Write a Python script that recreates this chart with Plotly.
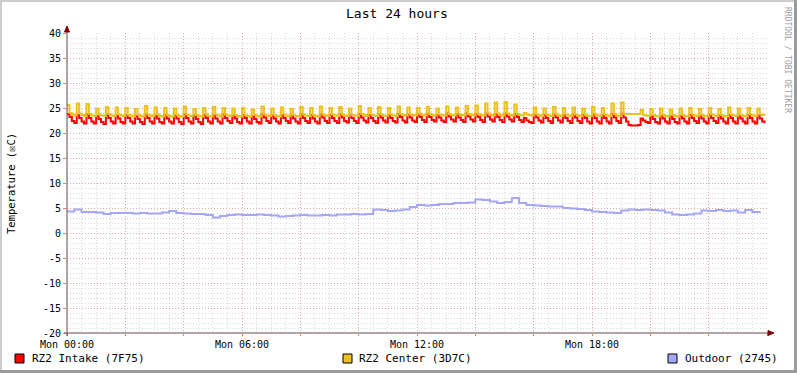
import plotly.graph_objects as go

# ---------------- data ----------------
step_hours = 5 / 60.0
intake = [
    23.8, 23.2, 22.4, 22.0, 23.6, 23.0, 22.3, 21.9, 23.7, 23.0, 22.3, 21.9,
    23.4, 22.8, 22.2, 21.8, 23.6, 23.0, 22.3, 21.9, 23.5, 22.9, 22.2, 21.9,
    23.6, 23.0, 22.3, 21.9, 23.4, 22.8, 22.2, 21.8, 23.7, 23.0, 22.3, 21.9,
    23.5, 22.9, 22.2, 21.9, 23.6, 22.9, 22.3, 21.9, 23.5, 22.9, 22.2, 21.8,
    23.7, 23.0, 22.3, 21.9, 23.5, 22.8, 22.2, 21.8, 23.6, 23.0, 22.3, 21.9,
    23.6, 22.9, 22.3, 21.9, 23.7, 23.0, 22.4, 22.0, 23.5, 22.9, 22.2, 21.9,
    23.6, 23.0, 22.3, 21.9, 23.4, 22.8, 22.2, 21.9, 23.7, 23.1, 22.4, 22.0,
    23.5, 22.9, 22.3, 21.9, 23.6, 23.0, 22.4, 22.0, 23.5, 22.9, 22.3, 21.9,
    23.7, 23.0, 22.4, 22.0, 23.6, 22.9, 22.3, 21.9, 23.7, 23.1, 22.4, 22.0,
    23.6, 23.0, 22.4, 22.0, 23.7, 23.1, 22.4, 22.1, 23.6, 23.0, 22.4, 22.0,
    23.8, 23.1, 22.5, 22.1, 23.6, 23.0, 22.4, 22.0, 23.7, 23.1, 22.5, 22.1,
    23.6, 23.0, 22.4, 22.1, 23.8, 23.2, 22.5, 22.1, 23.7, 23.1, 22.5, 22.2,
    23.7, 23.2, 22.6, 22.2, 23.8, 23.2, 22.6, 22.3, 23.6, 23.1, 22.5, 22.2,
    23.9, 23.3, 22.7, 22.3, 23.7, 23.1, 22.6, 22.2, 23.9, 23.3, 22.7, 22.3,
    23.8, 23.2, 22.6, 22.2, 23.9, 23.3, 22.7, 22.3, 23.8, 23.2, 22.6, 22.2,
    23.9, 23.3, 22.7, 22.3, 23.8, 23.2, 22.6, 22.2, 23.0, 22.5, 22.2, 22.0,
    23.7, 23.1, 22.5, 22.1, 23.6, 23.0, 22.4, 22.0, 23.7, 23.1, 22.5, 22.1,
    23.6, 23.0, 22.4, 22.0, 23.7, 23.1, 22.4, 22.0, 23.6, 23.0, 22.3, 21.9,
    23.7, 23.0, 22.3, 21.9, 23.6, 23.0, 22.3, 21.9, 23.8, 23.1, 22.4, 22.0,
    23.9, 23.1, 22.3, 21.6, 21.5, 21.5, 21.5, 21.6, 22.9, 22.5, 22.2, 22.0,
    23.4, 22.8, 22.2, 21.9, 23.5, 22.9, 22.3, 21.9, 23.4, 22.8, 22.2, 21.9,
    23.5, 22.9, 22.3, 21.9, 23.6, 23.0, 22.4, 22.0, 23.5, 22.9, 22.3, 21.9,
    23.6, 23.0, 22.4, 22.0, 23.5, 22.9, 22.3, 21.9, 23.6, 23.0, 22.3, 21.9,
    23.5, 22.9, 22.3, 21.9, 23.6, 23.0, 22.3, 21.9, 23.5, 22.9, 22.3, 22.0,
]
center = [
    25.6, 24.0, 23.7, 23.5, 25.9, 23.9, 23.6, 23.4, 25.8, 23.8, 23.5, 23.4,
    24.9, 23.7, 23.5, 23.4, 25.2, 23.8, 23.5, 23.4, 25.1, 23.7, 23.5, 23.4,
    25.0, 23.6, 23.5, 23.3, 24.8, 23.6, 23.4, 23.3, 25.4, 23.7, 23.5, 23.4,
    25.1, 23.7, 23.4, 23.3, 25.0, 23.6, 23.4, 23.3, 24.9, 23.6, 23.4, 23.3,
    25.3, 23.7, 23.5, 23.4, 24.8, 23.6, 23.4, 23.3, 25.0, 23.7, 23.4, 23.3,
    25.2, 23.7, 23.5, 23.3, 25.0, 23.7, 23.5, 23.4, 24.9, 23.6, 23.4, 23.3,
    25.0, 23.6, 23.4, 23.3, 24.7, 23.6, 23.4, 23.3, 25.3, 23.7, 23.5, 23.4,
    24.9, 23.6, 23.4, 23.3, 25.1, 23.7, 23.5, 23.4, 24.8, 23.6, 23.4, 23.3,
    25.2, 23.7, 23.5, 23.4, 25.0, 23.6, 23.4, 23.3, 25.3, 23.7, 23.5, 23.4,
    25.0, 23.7, 23.5, 23.4, 25.2, 23.7, 23.5, 23.4, 24.9, 23.6, 23.5, 23.4,
    25.4, 23.8, 23.6, 23.4, 25.0, 23.7, 23.5, 23.4, 25.2, 23.7, 23.5, 23.4,
    25.0, 23.7, 23.5, 23.4, 25.3, 23.8, 23.6, 23.5, 25.1, 23.7, 23.6, 23.5,
    25.0, 23.8, 23.6, 23.5, 25.2, 23.8, 23.6, 23.5, 24.9, 23.7, 23.6, 23.5,
    25.3, 23.8, 23.6, 23.5, 25.1, 23.8, 23.6, 23.5, 25.4, 23.8, 23.6, 23.5,
    25.5, 23.8, 23.6, 23.5, 25.9, 23.9, 23.6, 23.5, 26.1, 23.9, 23.6, 23.5,
    26.2, 23.9, 23.6, 23.5, 25.7, 23.8, 23.6, 23.5, 24.0, 23.7, 23.6, 23.5,
    25.1, 23.7, 23.5, 23.4, 24.9, 23.7, 23.5, 23.4, 25.2, 23.7, 23.5, 23.4,
    25.0, 23.7, 23.5, 23.4, 25.1, 23.7, 23.5, 23.4, 24.9, 23.6, 23.4, 23.4,
    25.2, 23.7, 23.5, 23.4, 25.0, 23.7, 23.5, 23.4, 25.9, 23.8, 23.5, 23.4,
    26.1, 23.8, 23.8, 23.8, 23.8, 23.8, 23.8, 23.8, 24.6, 23.6, 23.5, 23.4,
    24.8, 23.6, 23.4, 23.3, 24.9, 23.6, 23.4, 23.3, 24.7, 23.6, 23.4, 23.3,
    24.9, 23.6, 23.4, 23.3, 25.0, 23.7, 23.5, 23.4, 24.8, 23.6, 23.4, 23.3,
    25.0, 23.7, 23.5, 23.4, 24.8, 23.6, 23.4, 23.3, 25.1, 23.7, 23.5, 23.4,
    24.9, 23.6, 23.4, 23.3, 25.0, 23.7, 23.5, 23.4, 24.9, 23.7, 23.6, 23.5,
]
outdoor_step_hours = 15 / 60.0
outdoor = [
    4.3, 4.7, 4.2, 4.2, 4.1, 3.8, 4.0, 4.0, 4.0, 3.9, 4.0, 3.9,
    3.9, 4.1, 4.4, 4.0, 3.9, 3.8, 3.8, 3.6, 3.1, 3.4, 3.6, 3.7,
    3.6, 3.6, 3.7, 3.6, 3.5, 3.3, 3.4, 3.5, 3.6, 3.5, 3.5, 3.6,
    3.5, 3.7, 3.7, 3.8, 3.7, 3.8, 4.7, 4.6, 4.4, 4.5, 4.7, 5.2,
    5.6, 5.5, 5.6, 5.8, 5.8, 6.0, 6.0, 6.1, 6.7, 6.6, 6.3, 6.0,
    6.2, 7.0, 6.0, 5.6, 5.5, 5.4, 5.3, 5.3, 5.0, 4.9, 4.8, 4.6,
    4.3, 4.2, 4.1, 4.0, 4.5, 4.7, 4.6, 4.7, 4.6, 4.5, 4.1, 3.7,
    3.6, 3.7, 3.9, 4.5, 4.4, 4.6, 4.4, 4.5, 4.1, 4.6, 4.2, 4.0,
]
series_names = ["RZ2 Intake (7F75)", "RZ2 Center (3D7C)", "Outdoor (2745)"]
series_colors = ["#FF0000", "#EAC11D", "#A6A6F6"]
x_tick_hours = [0, 6, 12, 18]
x_tick_labels = ["Mon 00:00", "Mon 06:00", "Mon 12:00", "Mon 18:00"]
y_ticks = [-20, -15, -10, -5, 0, 5, 10, 15, 20, 25, 30, 35, 40]
title_text = "Last 24 hours"
y_title = "Temperature (\u2612C)"
watermark = "RRDTOOL / TOBI OETIKER"

# ---------------- layout geometry ----------------
W, H = 797, 373
L, R, T, B = 67, 30, 33, 40
PW, PH = W - L - R, H - T - B
FONT = "DejaVu Sans Mono"


def px(p):
    return (p - L) / PW


def py(p):
    return (H - B - p) / PH


t_main = [i * step_hours for i in range(len(intake))]
t_out = [i * outdoor_step_hours for i in range(len(outdoor))]

fig = go.Figure()
for name, t, vals, col in [
    (series_names[0], t_main, intake, series_colors[0]),
    (series_names[1], t_main, center, series_colors[1]),
    (series_names[2], t_out, outdoor, series_colors[2]),
]:
    fig.add_trace(go.Scatter(x=t, y=vals, mode="lines", name=name,
                             line=dict(color=col, width=2, shape="hv"),
                             hoverinfo="skip", showlegend=False))

major_x = list(range(0, 25, 2))
major_x_text = [x_tick_labels[x_tick_hours.index(h)] if h in x_tick_hours else "" for h in major_x]

fig.update_layout(
    width=W, height=H,
    margin=dict(l=L, r=R, t=T, b=B, pad=0, autoexpand=False),
    paper_bgcolor="#FFFFFF", plot_bgcolor="#FFFFFF",
    font=dict(family=FONT, size=10, color="#000000"),
    xaxis=dict(range=[0, 24], tickmode="array", tickvals=major_x, ticktext=major_x_text,
               showgrid=True, gridcolor="rgba(230,120,120,0.5)", griddash="1px,2px", gridwidth=1,
               ticks="outside", ticklen=2, tickcolor="#E08080",
               showline=False, zeroline=False, tickfont=dict(family=FONT, size=10),
               minor=dict(dtick=0.5, showgrid=True, gridcolor="rgba(150,150,150,0.35)",
                          griddash="1px,2px", ticks="", gridwidth=1)),
    yaxis=dict(range=[-20, 40], tickmode="array", tickvals=y_ticks,
               ticktext=[str(v) for v in y_ticks],
               showgrid=True, gridcolor="rgba(230,120,120,0.5)", griddash="1px,2px", gridwidth=1,
               ticks="outside", ticklen=3, tickcolor="#E08080",
               showline=False, zeroline=False, tickfont=dict(family=FONT, size=10),
               minor=dict(dtick=1, showgrid=True, gridcolor="rgba(150,150,150,0.35)",
                          griddash="1px,2px", ticks="", gridwidth=1)),
)

shapes = []
axis_col = "#6A4848"
arrow_col = "#800000"
# axes
shapes.append(dict(type="line", xref="paper", yref="paper", x0=px(64), x1=px(769),
                   y0=py(333), y1=py(333), line=dict(color=axis_col, width=1)))
shapes.append(dict(type="line", xref="paper", yref="paper", x0=px(67), x1=px(67),
                   y0=py(336), y1=py(29), line=dict(color=axis_col, width=1)))
# arrows
shapes.append(dict(type="path", xref="paper", yref="paper",
                   path=f"M {px(768)} {py(330.5)} L {px(774)} {py(333)} L {px(768)} {py(335.5)} Z",
                   fillcolor=arrow_col, line=dict(color=arrow_col, width=1)))
shapes.append(dict(type="path", xref="paper", yref="paper",
                   path=f"M {px(64.5)} {py(32)} L {px(67)} {py(26)} L {px(69.5)} {py(32)} Z",
                   fillcolor=arrow_col, line=dict(color=arrow_col, width=1)))
# 3D frame
shapes.append(dict(type="line", xref="paper", yref="paper", x0=px(0), x1=px(797),
                   y0=py(1), y1=py(1), line=dict(color="#CDCDCD", width=2)))
shapes.append(dict(type="line", xref="paper", yref="paper", x0=px(1), x1=px(1),
                   y0=py(0), y1=py(373), line=dict(color="#CDCDCD", width=2)))
shapes.append(dict(type="line", xref="paper", yref="paper", x0=px(0), x1=px(797),
                   y0=py(371.5), y1=py(371.5), line=dict(color="#9A9A9A", width=3)))
shapes.append(dict(type="line", xref="paper", yref="paper", x0=px(795.5), x1=px(795.5),
                   y0=py(0), y1=py(373), line=dict(color="#9A9A9A", width=3)))

annotations = []
# legend
legend_pos = [(15, 30), (343, 357), (668, 683)]
for (sx, tx), name, col in zip(legend_pos, series_names, series_colors):
    shapes.append(dict(type="rect", xref="paper", yref="paper", x0=px(sx), x1=px(sx + 9),
                       y0=py(354), y1=py(363), fillcolor=col, line=dict(color="#000000", width=1)))
    annotations.append(dict(xref="paper", yref="paper", x=px(tx), y=py(358.5), text=name,
                            showarrow=False, xanchor="left", yanchor="middle",
                            font=dict(family=FONT, size=11, color="#000000")))

annotations.append(dict(xref="paper", yref="paper", x=px(397), y=py(13), text=title_text,
                        showarrow=False, xanchor="center", yanchor="middle",
                        font=dict(family=FONT, size=13, color="#000000")))
annotations.append(dict(xref="paper", yref="paper", x=px(11), y=py(184), text=y_title,
                        showarrow=False, xanchor="center", yanchor="middle", textangle=-90,
                        font=dict(family=FONT, size=10.5, color="#000000")))
annotations.append(dict(xref="paper", yref="paper", x=px(787), y=py(60), text=watermark,
                        showarrow=False, xanchor="center", yanchor="middle", textangle=90,
                        font=dict(family=FONT, size=8, color="#A0A0A0")))

fig.update_layout(shapes=shapes, annotations=annotations)
fig.write_html("out.html", config={"displayModeBar": False},
               post_script="document.body.style.margin='0';document.body.style.overflow='hidden';")
